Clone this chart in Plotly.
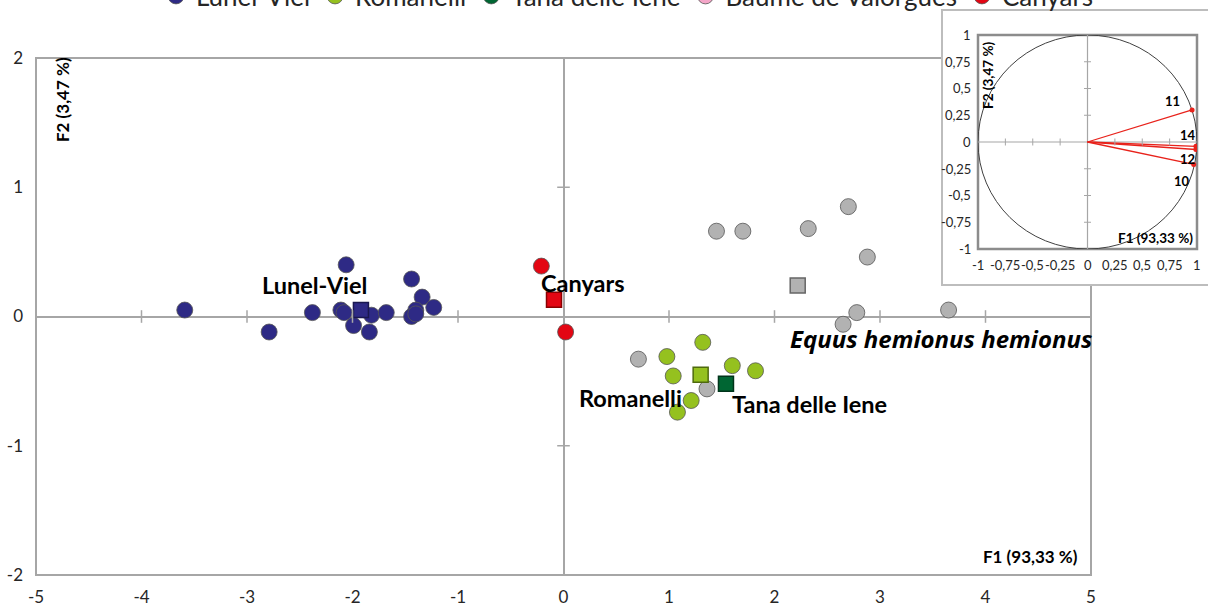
import plotly.graph_objects as go

# --- ACP scores (F1, F2) ---
lunel_x = [-3.59, -2.79, -2.38, -2.06, -2.11, -2.08, -1.99, -1.84, -1.82, -1.68, -1.44, -1.34, -1.23, -1.40, -1.44, -1.40]
lunel_y = [0.05, -0.12, 0.03, 0.40, 0.05, 0.03, -0.07, -0.12, 0.01, 0.03, 0.29, 0.15, 0.07, 0.05, 0.00, 0.02]
roman_x = [0.98, 1.32, 1.04, 1.60, 1.82, 1.21, 1.08]
roman_y = [-0.31, -0.20, -0.46, -0.38, -0.42, -0.65, -0.74]
canyars_x = [-0.21, 0.02]
canyars_y = [0.39, -0.12]
hemionus_x = [0.71, 1.36, 1.45, 1.70, 2.32, 2.70, 2.88, 2.78, 2.65, 3.65]
hemionus_y = [-0.33, -0.56, 0.66, 0.66, 0.68, 0.85, 0.46, 0.03, -0.06, 0.05]

# group centroids (squares)
groups = ["Lunel-Viel", "Canyars", "Romanelli", "Tana delle Iene", "Equus hemionus hemionus"]
cent_x = [-1.92, -0.09, 1.30, 1.54, 2.22]
cent_y = [0.05, 0.13, -0.45, -0.52, 0.24]
cent_colors = ["#2E2A85", "#E30613", "#95C11F", "#006633", "#B2B2B2"]
cent_lines = ["#1A1850", "#8A0000", "#4F6A0E", "#00331A", "#666666"]

# correlation circle
var_names = ["11", "14", "12", "10"]
var_f1 = [0.955, 0.99, 0.99, 0.97]
var_f2 = [0.30, -0.04, -0.07, -0.21]

main_xvals = [-5, -4, -3, -2, -1, 0, 1, 2, 3, 4, 5]
main_yvals = [-2, -1, 0, 1, 2]
main_ticks = [-4, -3, -2, -1, 1, 2, 3, 4]
main_yticks = [-1, 1]
circ_ticks = [-0.75, -0.5, -0.25, 0.25, 0.5, 0.75]
circ_vals = [-1, -0.75, -0.5, -0.25, 0, 0.25, 0.5, 0.75, 1]
circ_text = ["-1", "-0,75", "-0,5", "-0,25", "0", "0,25", "0,5", "0,75", "1"]

W, H = 1208, 610
ML, MR, MT, MB = 36, 2, 30, 35
PW, PH = W - ML - MR, H - MT - MB


def px(x):
    return (x - ML) / PW


def py(y):
    return (H - MB - y) / PH


FONT = "Lato"
GRAY = "#A6A6A6"
circ_style = dict(size=16, line=dict(color="#555555", width=0.8))

fig = go.Figure()

fig.add_trace(go.Scatter(x=lunel_x, y=lunel_y, mode="markers", name="Lunel-Viel",
                         marker=dict(color="#2E2A85", **circ_style)))
fig.add_trace(go.Scatter(x=roman_x, y=roman_y, mode="markers", name="Romanelli",
                         marker=dict(color="#95C11F", **circ_style)))
fig.add_trace(go.Scatter(x=[None], y=[None], mode="markers", name="Tana delle Iene",
                         marker=dict(color="#006633", **circ_style)))
fig.add_trace(go.Scatter(x=[None], y=[None], mode="markers", name="Baume de Valorgues",
                         marker=dict(color="#F4A6C8", **circ_style)))
fig.add_trace(go.Scatter(x=canyars_x, y=canyars_y, mode="markers", name="Canyars",
                         marker=dict(color="#E30613", **circ_style)))
fig.add_trace(go.Scatter(x=hemionus_x, y=hemionus_y, mode="markers", showlegend=False,
                         marker=dict(color="#B2B2B2", **circ_style)))
fig.add_trace(go.Scatter(x=cent_x, y=cent_y, mode="markers", showlegend=False,
                         marker=dict(symbol="square", size=15, color=cent_colors,
                                     line=dict(color=cent_lines, width=1.5))))

# tick marks crossing the zero lines of the main chart
fig.add_trace(go.Scatter(x=main_ticks, y=[0] * len(main_ticks), mode="markers", showlegend=False,
                         hoverinfo="skip",
                         marker=dict(symbol="line-ns", size=9, line=dict(color=GRAY, width=1.5))))
fig.add_trace(go.Scatter(x=[0] * len(main_yticks), y=main_yticks, mode="markers", showlegend=False,
                         hoverinfo="skip",
                         marker=dict(symbol="line-ew", size=9, line=dict(color=GRAY, width=1.5))))

# correlation circle vectors
for n, vx, vy in zip(var_names, var_f1, var_f2):
    fig.add_trace(go.Scatter(x=[0, vx], y=[0, vy], mode="lines", showlegend=False,
                             line=dict(color="#E8221B", width=1.3), xaxis="x2", yaxis="y2"))
fig.add_trace(go.Scatter(x=var_f1, y=var_f2, mode="markers", showlegend=False,
                         marker=dict(color="#E8221B", size=5), xaxis="x2", yaxis="y2"))
fig.add_trace(go.Scatter(x=circ_ticks, y=[0] * len(circ_ticks), mode="markers", showlegend=False,
                         hoverinfo="skip", xaxis="x2", yaxis="y2",
                         marker=dict(symbol="line-ns", size=5, line=dict(color=GRAY, width=1))))
fig.add_trace(go.Scatter(x=[0] * len(circ_ticks), y=circ_ticks, mode="markers", showlegend=False,
                         hoverinfo="skip", xaxis="x2", yaxis="y2",
                         marker=dict(symbol="line-ew", size=5, line=dict(color=GRAY, width=1))))

main_dom_x = [0, px(1091)]
main_dom_y = [0, py(58)]

shapes = [
    # main frame
    dict(type="rect", xref="paper", yref="paper", x0=main_dom_x[0], x1=main_dom_x[1],
         y0=main_dom_y[0], y1=main_dom_y[1], line=dict(color=GRAY, width=2), layer="below"),
    # inset box
    dict(type="rect", xref="paper", yref="paper", x0=px(942), x1=px(1212), y0=py(285), y1=py(10),
         fillcolor="white", line=dict(color="#BDBDBD", width=2), layer="below"),
    # inset plot frame
    dict(type="rect", xref="paper", yref="paper", x0=px(978), x1=px(1197), y0=py(249), y1=py(35),
         line=dict(color="#8C8C8C", width=2.5), layer="below"),
    # unit circle
    dict(type="circle", xref="x2", yref="y2", x0=-1, y0=-1, x1=1, y1=1,
         line=dict(color="#404040", width=1), layer="below"),
    # inset zero lines
    dict(type="line", xref="x2", yref="y2", x0=-1, x1=1, y0=0, y1=0,
         line=dict(color=GRAY, width=1.2), layer="below"),
    dict(type="line", xref="x2", yref="y2", x0=0, x1=0, y0=-1, y1=1,
         line=dict(color=GRAY, width=1.2), layer="below"),
]

label_shift = [(-46, 25), (29, 17), (-70, -23), (84, -20), (143, -53)]
annotations = []
for g, cx, cy, (dx, dy) in zip(groups, cent_x, cent_y, label_shift):
    if g.startswith("Equus"):
        txt = "<b><i>%s</i></b>" % g
        f = dict(family="Open Sans", size=24, color="black")
    else:
        txt = "<b>%s</b>" % g
        f = dict(family=FONT, size=23.5, color="black")
    annotations.append(dict(x=cx, y=cy, xref="x", yref="y", text=txt, showarrow=False,
                            xshift=dx, yshift=dy, font=f))

center = dict(xanchor="center", yanchor="middle", showarrow=False, xref="paper", yref="paper")
annotations += [
    dict(x=px(62), y=py(100), text="<b>F2 (3,47 %)</b>", textangle=-90,
         font=dict(family=FONT, size=17, color="black"), **center),
    dict(x=px(1030), y=py(556), text="<b>F1 (93,33 %)</b>",
         font=dict(family=FONT, size=17, color="black"), **center),
    dict(x=px(988), y=py(76), text="<b>F2 (3,47 %)</b>", textangle=-90,
         font=dict(family=FONT, size=13.5, color="black"), **center),
    dict(x=px(1155), y=py(238), text="<b>F1 (93,33 %)</b>",
         font=dict(family=FONT, size=13.5, color="black"), **center),
]
var_shift = [(-20, 9), (-8, 11), (-8, -10), (-12, -17)]
for n, vx, vy, (dx, dy) in zip(var_names, var_f1, var_f2, var_shift):
    annotations.append(dict(x=vx, y=vy, xref="x2", yref="y2", text="<b>%s</b>" % n, showarrow=False,
                            xshift=dx, yshift=dy, font=dict(family=FONT, size=13, color="black")))

# tick labels of the correlation circle
small_font = dict(family=FONT, size=13, color="#262626")
for v, t in zip(circ_vals, circ_text):
    annotations.append(dict(x=px(973), y=v, xref="paper", yref="y2", text=t, showarrow=False,
                            xanchor="right", yanchor="middle", font=small_font))
    annotations.append(dict(x=v, y=py(255), xref="x2", yref="paper", text=t, showarrow=False,
                            xanchor="center", yanchor="top", font=small_font))

tick_font = dict(family=FONT, size=17, color="#262626")

fig.update_layout(
    width=W, height=H,
    margin=dict(l=ML, r=MR, t=MT, b=MB, autoexpand=False),
    plot_bgcolor="rgba(0,0,0,0)", paper_bgcolor="white",
    font=dict(family=FONT),
    separators=", ",
    shapes=shapes,
    annotations=annotations,
    legend=dict(orientation="h", x=px(156), y=py(-4), xanchor="left", yanchor="middle",
                font=dict(family=FONT, size=26, color="#262626"), bgcolor="rgba(0,0,0,0)"),
    xaxis=dict(domain=main_dom_x, range=[-5, 5], tickvals=main_xvals,
               ticktext=[str(v) for v in main_xvals], showgrid=False, zeroline=True,
               zerolinecolor=GRAY, zerolinewidth=2, showline=False, ticks="",
               tickfont=tick_font, ticklabelstandoff=10, anchor="y"),
    yaxis=dict(domain=main_dom_y, range=[-2, 2], tickvals=main_yvals,
               ticktext=[str(v) for v in main_yvals], showgrid=False, zeroline=True,
               zerolinecolor=GRAY, zerolinewidth=2, showline=False, ticks="",
               tickfont=tick_font, ticklabelstandoff=12, anchor="x"),
    xaxis2=dict(domain=[px(978), px(1197)], range=[-1, 1], anchor="y2", showgrid=False,
                zeroline=False, showline=False, showticklabels=False),
    yaxis2=dict(domain=[py(249), py(35)], range=[-1, 1], anchor="x2", showgrid=False,
                zeroline=False, showline=False, showticklabels=False),
)

fig.write_html("out.html", post_script="document.body.style.margin='0';",
               config=dict(displayModeBar=False))
